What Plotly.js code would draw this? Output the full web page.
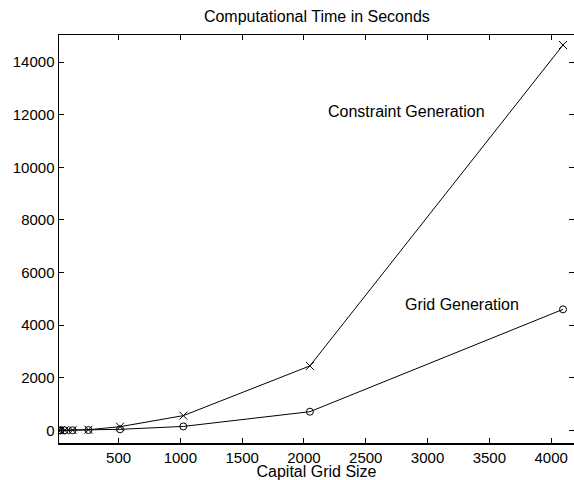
<!DOCTYPE html>
<html><head><meta charset="utf-8">
<script src="https://cdn.plot.ly/plotly-3.0.1.min.js"></script>
<style>html,body{margin:0;padding:0;background:#fff}#chart{width:574px;height:480px}</style>
</head><body><div id="chart"></div>
<script>
const gridSize = [16, 32, 64, 128, 256, 512, 1024, 2048, 4096];
const constraintTime = [1, 2, 4, 10, 25, 140, 560, 2450, 14650];
const gridTime = [0, 1, 2, 5, 12, 40, 150, 710, 4600];
const xTicks = [500, 1000, 1500, 2000, 2500, 3000, 3500, 4000];
const yTicks = [0, 2000, 4000, 6000, 8000, 10000, 12000, 14000];
const yTickLabels = yTicks.map(String);
const xTickLabels = xTicks.map(String);

const fam = 'Liberation Sans, Arial, sans-serif';
const font = {family: fam, size: 15, color: '#000'};
const traces = [
  {x: gridSize, y: constraintTime, type: 'scatter', mode: 'lines+markers', name: 'Constraint Generation',
   line: {color: '#000', width: 1}, marker: {symbol: 'x-thin-open', size: 8, color: '#000', line: {color: '#000', width: 1}}},
  {x: gridSize, y: gridTime, type: 'scatter', mode: 'lines+markers', name: 'Grid Generation',
   line: {color: '#000', width: 1}, marker: {symbol: 'circle-open', size: 7, color: '#000', line: {color: '#000', width: 1}}}
];
const axisCommon = {showline: true, linecolor: '#000', linewidth: 1.5, mirror: 'ticks', ticks: 'inside', ticklen: 5,
  tickcolor: '#000', tickwidth: 1, showgrid: false, zeroline: false, tickfont: font};
const layout = {
  width: 574, height: 480, showlegend: false,
  paper_bgcolor: '#fff', plot_bgcolor: '#fff', font: font,
  margin: {l: 59, r: 0, t: 35, b: 37},
  title: {text: 'Computational Time in Seconds', font: {family: fam, size: 16, color: '#000'}, x: 0.552, xanchor: 'center', y: 0.966, yanchor: 'middle'},
  xaxis: Object.assign({}, axisCommon, {range: [18, 4185], tickvals: xTicks, ticktext: xTickLabels,
    title: {text: 'Capital Grid Size', font: {family: fam, size: 16, color: '#000'}, standoff: 0}}),
  yaxis: Object.assign({}, axisCommon, {range: [-480, 15030], tickvals: yTicks, ticktext: yTickLabels}),
  annotations: [
    {x: 2831, y: 12130, xref: 'x', yref: 'y', text: 'Constraint Generation', showarrow: false, font: {family: fam, size: 16, color: '#000'}},
    {x: 3276, y: 4780, xref: 'x', yref: 'y', text: 'Grid Generation', showarrow: false, font: {family: fam, size: 16, color: '#000'}}
  ]
};
Plotly.newPlot('chart', traces, layout, {displayModeBar: false, staticPlot: true});
</script></body></html>
